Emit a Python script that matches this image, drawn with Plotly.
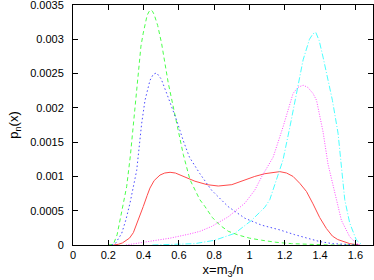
import plotly.graph_objects as go

# curves (x = m3/n, y = p_n(x))
red_x = [0.23, 0.257, 0.28, 0.30, 0.32, 0.342, 0.37, 0.398, 0.42, 0.436, 0.46, 0.493, 0.52,
         0.55, 0.58, 0.625, 0.691, 0.76, 0.823, 0.90, 0.974, 1.03, 1.087, 1.13, 1.172, 1.21,
         1.247, 1.285, 1.323, 1.36, 1.398, 1.436, 1.47, 1.50, 1.53, 1.568, 1.62]
red_y = [0, 0.00001, 0.00003, 0.00006, 0.0001, 0.00018, 0.00036, 0.00056, 0.00072, 0.00083,
         0.00094, 0.00102, 0.00105, 0.00106, 0.00105, 0.001, 0.00093, 0.00088, 0.00086,
         0.00088, 0.00095, 0.001, 0.00104, 0.00106, 0.00107, 0.00105, 0.001, 0.0009,
         0.00078, 0.0006, 0.0004, 0.00024, 0.00013, 0.00008, 0.00005, 0.00002, 0]

green_x = [0.20, 0.229, 0.25, 0.267, 0.285, 0.304, 0.325, 0.345, 0.36, 0.37, 0.385, 0.398,
           0.42, 0.43, 0.44, 0.45, 0.46, 0.48, 0.502, 0.54, 0.587, 0.625, 0.663, 0.691,
           0.719, 0.748, 0.79, 0.832, 0.88, 0.936, 1.0, 1.068, 1.15, 1.238, 1.35, 1.45, 1.6]
green_y = [0, 0.00001, 0.00015, 0.00036, 0.0006, 0.00085, 0.0013, 0.0018, 0.0022, 0.0025,
           0.0029, 0.00309, 0.00335, 0.0034, 0.00343, 0.00341, 0.00336, 0.0032, 0.00294,
           0.00236, 0.00177, 0.00132, 0.00095, 0.0008, 0.00066, 0.00056, 0.0004, 0.00029,
           0.0002, 0.000146, 0.0001, 0.00007, 0.00004, 0.00002, 0.00001, 0.0, 0]

blue_x = [0.22, 0.24, 0.276, 0.30, 0.323, 0.361, 0.389, 0.408, 0.436, 0.455, 0.474, 0.50,
          0.531, 0.587, 0.625, 0.66, 0.719, 0.785, 0.879, 0.974, 1.068, 1.172, 1.257, 1.33,
          1.398, 1.47, 1.55, 1.62]
blue_y = [0, 0.00002, 0.00017, 0.00037, 0.00061, 0.00109, 0.00177, 0.00211, 0.0024,
          0.00249, 0.00251, 0.00242, 0.00221, 0.00182, 0.00152, 0.00128, 0.00104, 0.0008,
          0.00056, 0.00039, 0.00029, 0.00022, 0.00015, 0.0001, 0.00005, 0.00002, 0.00001, 0]

magenta_x = [0.30, 0.35, 0.418, 0.55, 0.66, 0.72, 0.785, 0.879, 0.974, 1.03, 1.07, 1.134,
             1.19, 1.247, 1.275, 1.304, 1.33, 1.36, 1.38, 1.417, 1.445, 1.483, 1.521, 1.568,
             1.606, 1.63]
magenta_y = [0, 0.00002, 0.00005, 0.0001, 0.00016, 0.0002, 0.00027, 0.00041, 0.00061,
             0.0008, 0.001, 0.00128, 0.00172, 0.00221, 0.0023, 0.00233, 0.0023, 0.00221,
             0.00211, 0.00165, 0.00118, 0.00075, 0.00036, 0.00012, 0.00002, 0]

cyan_x = [0.45, 0.6, 0.691, 0.804, 0.917, 1.012, 1.087, 1.115, 1.153, 1.19, 1.229, 1.266,
          1.304, 1.34, 1.36, 1.376, 1.395, 1.417, 1.455, 1.47, 1.502, 1.521, 1.54, 1.568,
          1.606, 1.64]
cyan_y = [0, 0.00001, 0.00002, 0.00007, 0.00017, 0.00036, 0.00055, 0.00066, 0.00095,
          0.00124, 0.00172, 0.00221, 0.0027, 0.003, 0.00308, 0.0031, 0.00298, 0.00274,
          0.0023, 0.00211, 0.00163, 0.00114, 0.00066, 0.00032, 0.00007, 0]

x_ticks = [0, 0.2, 0.4, 0.6, 0.8, 1.0, 1.2, 1.4, 1.6]
x_labels = ["0", "0.2", "0.4", "0.6", "0.8", "1", "1.2", "1.4", "1.6"]
y_ticks = [0, 0.0005, 0.001, 0.0015, 0.002, 0.0025, 0.003, 0.0035]
y_labels = ["0", "0.0005", "0.001", "0.0015", "0.002", "0.0025", "0.003", "0.0035"]

series = [
    (red_x, red_y, "#ff0000", "solid"),
    (green_x, green_y, "#00ff00", "4px,3px"),
    (blue_x, blue_y, "#0000ff", "1.5px,2.5px"),
    (magenta_x, magenta_y, "#ff00ff", "1px,1.5px"),
    (cyan_x, cyan_y, "#00ffff", "6px,2px,1px,2px"),
]

fig = go.Figure()
for xs, ys, col, dash in series:
    fig.add_trace(go.Scatter(
        x=xs, y=ys, mode="lines",
        line=dict(color=col, width=1, dash=dash),
        opacity=0.7, showlegend=False,
    ))

axis_common = dict(
    showline=True, linecolor="black", linewidth=1, mirror="ticks",
    ticks="inside", ticklen=5, tickcolor="black",
    showgrid=False, zeroline=False, automargin=False, ticklabeloverflow="allow",
    tickfont=dict(family="Liberation Sans, Arial, sans-serif", size=11, color="black"),
)

fig.update_layout(
    width=374, height=280,
    paper_bgcolor="white", plot_bgcolor="white",
    font=dict(family="Liberation Sans, Arial, sans-serif", size=11, color="black"),
    margin=dict(l=73, r=1, t=5, b=35, autoexpand=False),
)
fig.update_xaxes(**axis_common, range=[0, 1.7], tickvals=x_ticks, ticktext=x_labels,
                 title=dict(text="x=m<sub>3</sub>/n", standoff=4))
fig.update_yaxes(**axis_common, range=[0, 0.0035], tickvals=y_ticks, ticktext=y_labels,
                 ticklabelstandoff=6,
                 title=dict(text="p<sub>n</sub>(x)", standoff=8))

# drop the default page margin so the figure sits at the window's corner
fig.write_html("out.html", config={"displayModeBar": False},
               post_script="document.body.style.margin='0px';")
